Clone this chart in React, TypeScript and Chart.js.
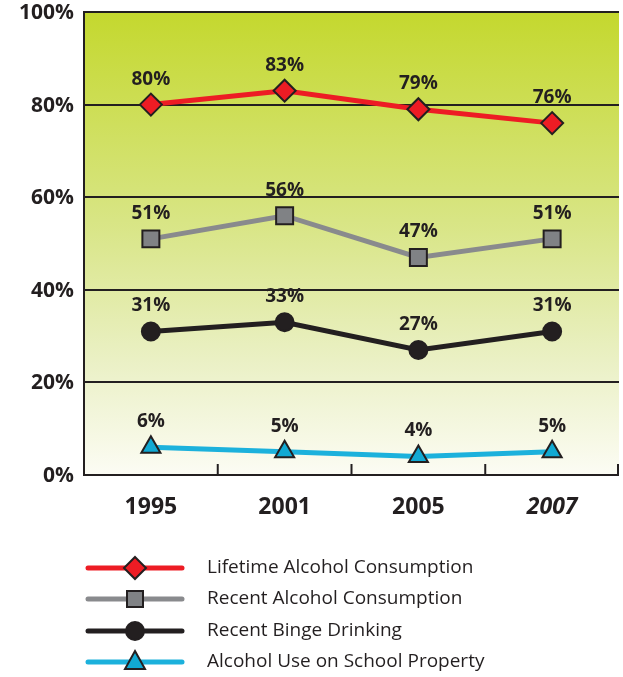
import React, { useEffect, useRef } from "react";
import { Chart, registerables } from "chart.js";

Chart.register(...registerables);

const categories = ["1995", "2001", "2005", "2007"];
const lifetime = [80, 83, 79, 76];
const recent = [51, 56, 47, 51];
const binge = [31, 33, 27, 31];
const school = [6, 5, 4, 5];
const yTicks = [0, 20, 40, 60, 80, 100];
const seriesNames = [
  "Lifetime Alcohol Consumption",
  "Recent Alcohol Consumption",
  "Recent Binge Drinking",
  "Alcohol Use on School Property",
];

const DARK = "#231f20";
const FONT = "'Open Sans', 'Liberation Sans', sans-serif";

const bgPlugin = {
  id: "bgGrad",
  beforeDraw(chart: any) {
    const { ctx, chartArea } = chart;
    if (!chartArea) return;
    const g = ctx.createLinearGradient(0, chartArea.top, 0, chartArea.bottom);
    g.addColorStop(0, "#c4d82e");
    g.addColorStop(0.45, "#d8e584");
    g.addColorStop(0.75, "#eaf0c4");
    g.addColorStop(1, "#fcfcf4");
    ctx.save();
    ctx.fillStyle = g;
    ctx.fillRect(chartArea.left, chartArea.top, chartArea.right - chartArea.left, chartArea.bottom - chartArea.top);
    ctx.restore();
  },
};

const overlayPlugin = {
  id: "overlay",
  afterDatasetsDraw(chart: any) {
    const { ctx, chartArea, scales } = chart;
    const xs = scales.x;
    ctx.save();
    ctx.strokeStyle = DARK;
    ctx.lineWidth = 2;
    const n = categories.length;
    for (let i = 1; i <= n; i++) {
      const px = i < n
        ? (xs.getPixelForValue(i - 1) + xs.getPixelForValue(i)) / 2
        : chartArea.right - 1;
      ctx.beginPath();
      ctx.moveTo(px, chartArea.bottom);
      ctx.lineTo(px, chartArea.bottom - 11);
      ctx.stroke();
    }
    ctx.fillStyle = DARK;
    ctx.font = `bold 19px ${FONT}`;
    ctx.textAlign = "center";
    ctx.textBaseline = "alphabetic";
    chart.data.datasets.forEach((ds: any, di: number) => {
      const meta = chart.getDatasetMeta(di);
      meta.data.forEach((pt: any, i: number) => {
        ctx.fillText(ds.data[i] + "%", pt.x, pt.y - 20);
      });
    });
    ctx.restore();
  },
  afterDraw(chart: any) {
    const { ctx, chartArea } = chart;
    ctx.save();
    const xs = chart.scales.x;
    const ysc = chart.scales.y;
    ctx.fillStyle = DARK;
    ctx.textAlign = "right";
    ctx.textBaseline = "middle";
    ctx.font = `bold 21px ${FONT}`;
    yTicks.forEach((v) => {
      ctx.fillText(v + "%", chartArea.left - 10, ysc.getPixelForValue(v) + 1);
    });
    ctx.textAlign = "center";
    categories.forEach((c, i) => {
      ctx.font = `${i === categories.length - 1 ? "italic " : ""}bold 23px ${FONT}`;
      ctx.fillText(c, xs.getPixelForValue(i), 507);
    });
    const ys = [568, 599, 631, 662];
    chart.data.datasets.forEach((ds: any, di: number) => {
      const y = ys[di];
      ctx.strokeStyle = ds.borderColor;
      ctx.lineWidth = 5;
      ctx.lineCap = "round";
      ctx.beginPath();
      ctx.moveTo(88, y);
      ctx.lineTo(182, y);
      ctx.stroke();
      ctx.fillStyle = ds.pointBackgroundColor;
      ctx.strokeStyle = ds.pointBorderColor;
      ctx.lineWidth = 2;
      const cx = 135;
      const style = ds.pointStyle;
      ctx.beginPath();
      if (style === "rectRot") {
        const r = 11;
        ctx.moveTo(cx, y - r);
        ctx.lineTo(cx + r, y);
        ctx.lineTo(cx, y + r);
        ctx.lineTo(cx - r, y);
        ctx.closePath();
      } else if (style === "rect") {
        ctx.rect(cx - 8, y - 8, 16, 16);
      } else if (style === "circle") {
        ctx.arc(cx, y, 9, 0, Math.PI * 2);
      } else {
        ctx.moveTo(cx, y - 11);
        ctx.lineTo(cx + 10, y + 7);
        ctx.lineTo(cx - 10, y + 7);
        ctx.closePath();
      }
      ctx.fill();
      ctx.stroke();
      ctx.fillStyle = DARK;
      ctx.font = `19px ${FONT}`;
      ctx.textAlign = "left";
      ctx.textBaseline = "middle";
      ctx.fillText(seriesNames[di], 207, y);
    });
    ctx.restore();
  },
};

function mk(label: string, data: number[], color: string, fill: string, style: string, radius: number) {
  return {
    label,
    data,
    borderColor: color,
    borderWidth: 5,
    pointStyle: style,
    pointRadius: radius,
    pointBackgroundColor: fill,
    pointBorderColor: DARK,
    pointBorderWidth: 2,
    tension: 0,
    clip: false,
  };
}

export default function App() {
  const ref = useRef<HTMLCanvasElement>(null);
  useEffect(() => {
    const c = ref.current!;
    const chart = new Chart(c, {
      type: "line",
      data: {
        labels: categories,
        datasets: [
          mk(seriesNames[0], lifetime, "#ed1c24", "#ed1c24", "rectRot", 11),
          mk(seriesNames[1], recent, "#898a8d", "#808285", "rect", 12),
          mk(seriesNames[2], binge, "#231f20", "#231f20", "circle", 9),
          mk(seriesNames[3], school, "#1cb1dc", "#11a9d3", "triangle", 11),
        ] as any,
      },
      options: {
        animation: false,
        responsive: false,
        devicePixelRatio: 1,
        layout: { autoPadding: false, padding: { left: 0, right: 4, top: 12, bottom: 202 } },
        plugins: { legend: { display: false }, tooltip: { enabled: false } },
        scales: {
          x: {
            display: false,
            offset: true,
          },
          y: {
            min: 0,
            max: 100,
            afterBuildTicks(s: any) { s.ticks = yTicks.map((v) => ({ value: v })); },
            afterFit(s: any) { s.width = 84; },
            grid: { color: DARK, lineWidth: 2, drawTicks: false },
            border: { display: true, color: DARK, width: 2 },
            ticks: { display: false },
          },
        },
      },
      plugins: [bgPlugin, overlayPlugin],
    });
    return () => chart.destroy();
  }, []);
  return (
    <div style={{ position: "fixed", left: 0, top: 0, width: 623, height: 677, background: "#fff" }}>
      <canvas ref={ref} width={623} height={677} style={{ display: "block" }} />
    </div>
  );
}
